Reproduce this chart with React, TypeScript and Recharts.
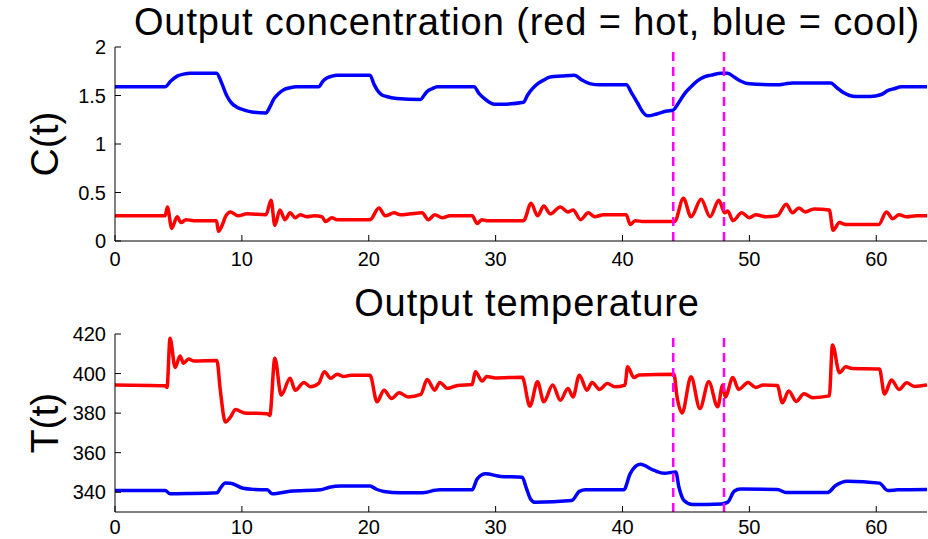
import { LineChart, Line, XAxis, YAxis, ReferenceLine } from 'recharts';

const FONT = '"Liberation Sans", Arial, Helvetica, sans-serif';

// axis ticks
const xTicks = [0, 10, 20, 30, 40, 50, 60];
const concTicks = [0, 0.5, 1, 1.5, 2];
const tempTicks = [340, 360, 380, 400, 420];
const switchTimes = [44, 48];

// output concentration, cool reactor (blue)
const coolConcT = [0, 3.95, 4.4, 4.9, 5.4, 5.9, 8.0, 8.4, 8.8, 9.2, 9.6, 10.2, 10.8, 11.9, 12.2, 12.5, 12.9, 13.3, 13.8, 14.3, 16.05, 16.4, 16.7, 17.1, 17.5, 20.1, 20.4, 20.65, 21.0, 21.4, 22.2, 24.1, 24.35, 24.6, 25.0, 25.4, 28.3, 28.7, 29.1, 29.5, 29.9, 30.5, 32.2, 32.5, 32.9, 33.3, 33.8, 34.3, 35.2, 36.2, 36.8, 37.5, 38.2, 40.3, 40.7, 41.2, 41.6, 42.0, 42.7, 43.5, 44.0, 44.4, 44.9, 45.4, 45.9, 46.4, 47.0, 47.8, 48.3, 48.8, 49.3, 50.0, 52.3, 52.8, 53.4, 56.4, 56.9, 57.4, 57.9, 58.4, 59.5, 60.4, 60.9, 61.4, 62.0, 64];
const coolConcC = [1.59, 1.59, 1.65, 1.70, 1.72, 1.73, 1.73, 1.63, 1.50, 1.42, 1.38, 1.35, 1.33, 1.32, 1.38, 1.46, 1.52, 1.56, 1.58, 1.59, 1.59, 1.65, 1.68, 1.70, 1.71, 1.71, 1.62, 1.56, 1.51, 1.49, 1.47, 1.46, 1.50, 1.54, 1.57, 1.59, 1.59, 1.52, 1.47, 1.43, 1.41, 1.41, 1.43, 1.50, 1.57, 1.62, 1.66, 1.69, 1.70, 1.71, 1.66, 1.62, 1.61, 1.61, 1.53, 1.42, 1.33, 1.29, 1.31, 1.34, 1.35, 1.42, 1.52, 1.59, 1.65, 1.69, 1.71, 1.73, 1.73, 1.69, 1.65, 1.62, 1.61, 1.62, 1.63, 1.63, 1.58, 1.53, 1.50, 1.49, 1.49, 1.51, 1.55, 1.57, 1.59, 1.59];

// output concentration, hot reactor (red)
const hotConcT = [0, 3.95, 4.13, 4.47, 4.9, 5.2, 5.6, 6.2, 8.0, 8.15, 8.5, 8.7, 9.1, 9.7, 10.4, 11.9, 12.3, 12.6, 13.0, 13.4, 13.8, 14.2, 14.6, 15.1, 15.7, 16.3, 16.6, 17.1, 17.5, 20.1, 20.8, 21.3, 22.0, 22.5, 23.3, 24.2, 24.7, 25.2, 25.8, 26.4, 28.15, 28.55, 28.9, 29.3, 32.2, 32.8, 33.3, 33.8, 34.3, 35.1, 35.7, 36.1, 36.7, 37.3, 37.8, 38.5, 40.3, 40.6, 41.0, 41.7, 44.1, 44.8, 45.4, 46.2, 46.9, 47.6, 48.05, 48.3, 48.7, 49.4, 50.0, 50.5, 51.3, 52.2, 52.9, 53.4, 53.9, 54.4, 55.1, 56.3, 56.6, 57.1, 57.6, 60.2, 60.8, 61.3, 61.8, 62.4, 63.2, 64];
const hotConcC = [0.26, 0.26, 0.35, 0.13, 0.25, 0.19, 0.22, 0.21, 0.21, 0.10, 0.18, 0.25, 0.30, 0.26, 0.28, 0.27, 0.42, 0.16, 0.32, 0.22, 0.29, 0.24, 0.27, 0.25, 0.26, 0.25, 0.20, 0.24, 0.22, 0.22, 0.34, 0.26, 0.29, 0.27, 0.28, 0.29, 0.22, 0.27, 0.24, 0.26, 0.26, 0.18, 0.22, 0.21, 0.21, 0.39, 0.26, 0.36, 0.28, 0.35, 0.30, 0.32, 0.22, 0.29, 0.25, 0.27, 0.27, 0.17, 0.21, 0.20, 0.20, 0.44, 0.25, 0.43, 0.25, 0.42, 0.29, 0.31, 0.21, 0.29, 0.24, 0.27, 0.25, 0.26, 0.38, 0.29, 0.34, 0.30, 0.33, 0.32, 0.11, 0.19, 0.17, 0.17, 0.30, 0.23, 0.27, 0.25, 0.26, 0.26];

// output temperature, hot reactor (red)
const hotTempT = [0, 3.95, 4.1, 4.34, 4.74, 5.13, 5.4, 5.8, 6.2, 8.03, 8.3, 8.7, 9.1, 9.5, 10.2, 12.0, 12.2, 12.6, 13.1, 13.8, 14.2, 14.9, 15.4, 16.05, 16.5, 17.0, 17.5, 18.0, 18.6, 20.1, 20.65, 21.2, 21.8, 22.4, 23.1, 24.1, 24.6, 25.2, 25.6, 26.2, 27.0, 28.15, 28.4, 28.95, 29.3, 30.0, 32.1, 32.7, 33.3, 33.8, 34.5, 35.1, 35.7, 36.1, 36.6, 37.2, 37.6, 38.2, 38.8, 39.4, 40.2, 40.4, 40.9, 41.3, 44.05, 44.3, 44.7, 45.4, 46.1, 46.8, 47.5, 47.9, 48.1, 48.7, 49.15, 49.9, 50.5, 51.1, 52.2, 52.6, 53.1, 53.7, 54.3, 55.0, 56.3, 56.55, 57.1, 57.6, 58.1, 60.25, 60.65, 61.2, 61.8, 62.4, 63.0, 64];
const hotTempK = [394.2, 393.8, 393, 417.9, 403.1, 408.9, 405.2, 407.3, 406.4, 406.6, 391.6, 375.5, 378, 381.8, 380.1, 379.7, 378.8, 407.7, 389.1, 397.6, 391.6, 395.5, 393.3, 395, 400.9, 397.6, 399.7, 398.5, 399.2, 399.2, 385.7, 391.6, 387.4, 390.3, 388.2, 389.5, 397, 391.6, 395.5, 392.5, 394, 394.5, 400.9, 396.2, 398.5, 397.8, 398.1, 383.5, 395.8, 385.7, 394.2, 386.5, 392.5, 388.2, 399.2, 391.6, 395.5, 392, 395, 393.3, 394.2, 403.5, 398, 399.3, 399.7, 388.2, 380.1, 398.4, 382.3, 395.8, 383.2, 394.2, 388.2, 398, 392, 395.5, 393, 394.2, 394, 385.2, 391.2, 385.9, 389.8, 387.8, 388.7, 414.5, 400.4, 403.5, 402.5, 402.3, 389.6, 396.7, 392, 395.3, 393.5, 394.2];

// output temperature, cool reactor (blue)
const coolTempT = [0, 3.95, 4.34, 5.7, 8.03, 8.35, 8.7, 9.1, 10.1, 11.0, 12.0, 12.4, 13.8, 16.2, 16.9, 17.8, 20.1, 20.6, 21.2, 22.5, 24.1, 25.6, 28.15, 28.55, 29.2, 30.4, 32.1, 32.4, 32.75, 33.1, 36.0, 36.6, 37.1, 40.1, 40.6, 41.4, 42.5, 43.3, 44.2, 44.45, 44.85, 45.5, 47.8, 48.3, 48.8, 49.3, 52.2, 52.9, 56.15, 56.8, 57.7, 60.25, 60.9, 61.7, 64];
const coolTempK = [340.9, 340.9, 339.2, 339.3, 339.7, 342.5, 344.6, 344.5, 342, 341.4, 341.2, 339.2, 340.5, 341.2, 342.5, 343.2, 343.2, 341.5, 340.4, 339.7, 339.7, 341.2, 341.2, 346.8, 349.3, 348, 347.6, 342.5, 336.6, 334.9, 335.8, 340.4, 341.2, 341.2, 349.3, 354.1, 351, 349.6, 350.2, 342.5, 335.8, 333.8, 334.1, 335, 340.5, 341.6, 341.4, 339.8, 339.8, 343.4, 345.6, 344.6, 340.9, 341.2, 341.4];

const toPoints = (ts: number[], vs: number[]) => ts.map((t, i) => ({ t, v: vs[i] }));

const TICK_LEN = 6;

function BottomTick(props: any) {
  const { x, y, payload, labelDy } = props;
  return (
    <g>
      <line x1={x} y1={y} x2={x} y2={y - TICK_LEN} stroke="#000" />
      <text x={x} y={y + labelDy} textAnchor="middle" fontSize={20} fontFamily={FONT} fill="#000">
        {payload.value}
      </text>
    </g>
  );
}

function TopTick(props: any) {
  const { x, y } = props;
  return <line x1={x} y1={y} x2={x} y2={y + TICK_LEN} stroke="#000" />;
}

function LeftTick(props: any) {
  const { x, y, payload } = props;
  return (
    <g>
      <line x1={x} y1={y} x2={x + TICK_LEN} y2={y} stroke="#000" />
      <text x={x - 9} y={y + 7} textAnchor="end" fontSize={20} fontFamily={FONT} fill="#000">
        {payload.value}
      </text>
    </g>
  );
}

function RightTick(props: any) {
  const { x, y } = props;
  return <line x1={x} y1={y} x2={x - TICK_LEN} y2={y} stroke="#000" />;
}

type PanelProps = {
  top: number;
  height: number;
  marginTop: number;
  axisHeight: number;
  labelDy: number;
  yDomain: [number, number];
  yTicks: number[];
  hot: { t: number; v: number }[];
  cool: { t: number; v: number }[];
};

function Panel({ top, height, marginTop, axisHeight, labelDy, yDomain, yTicks, hot, cool }: PanelProps) {
  const axisLine = { stroke: '#000', strokeWidth: 1 };
  return (
    <div style={{ position: 'absolute', left: 0, top, width: 928, height }}>
      <LineChart width={928} height={height} margin={{ top: marginTop, right: 1, bottom: 0, left: 0 }}>
        <XAxis xAxisId="b" type="number" dataKey="t" domain={[0, 64]} ticks={xTicks} interval={0}
          allowDataOverflow height={axisHeight} tickSize={0} tickMargin={0} axisLine={axisLine}
          tick={(p: any) => <BottomTick {...p} labelDy={labelDy} />} />
        <XAxis xAxisId="t" orientation="top" type="number" dataKey="t" domain={[0, 64]} ticks={xTicks} interval={0}
          allowDataOverflow height={0} tickSize={0} tickMargin={0} axisLine={axisLine}
          tick={(p: any) => <TopTick {...p} />} />
        <YAxis yAxisId="l" type="number" domain={yDomain} ticks={yTicks} interval={0} allowDataOverflow
          width={115} tickSize={0} tickMargin={0} axisLine={axisLine}
          tick={(p: any) => <LeftTick {...p} />} />
        <YAxis yAxisId="r" orientation="right" type="number" domain={yDomain} ticks={yTicks} interval={0} allowDataOverflow
          width={0} tickSize={0} tickMargin={0} axisLine={axisLine}
          tick={(p: any) => <RightTick {...p} />} />
        <Line xAxisId="b" yAxisId="l" data={cool} dataKey="v" type="monotone" stroke="#0000ff" strokeWidth={3.5}
          dot={false} isAnimationActive={false} />
        <Line xAxisId="b" yAxisId="l" data={hot} dataKey="v" type="monotone" stroke="#ff0000" strokeWidth={3.5}
          dot={false} isAnimationActive={false} />
        {switchTimes.map((s) => (
          <ReferenceLine key={s} xAxisId="b" yAxisId="l" x={s} stroke="#ff00ff" strokeWidth={2.5} strokeDasharray="9 6" />
        ))}
      </LineChart>
    </div>
  );
}

export default function App() {
  return (
    <div style={{ position: 'absolute', left: 0, top: 0, width: 928, height: 539, background: '#fff', overflow: 'hidden' }}>
      <Panel top={0} height={270} marginTop={47} axisHeight={29} labelDy={25}
        yDomain={[0, 2]} yTicks={concTicks} hot={toPoints(hotConcT, hotConcC)} cool={toPoints(coolConcT, coolConcC)} />
      <Panel top={290} height={249} marginTop={44} axisHeight={27} labelDy={22}
        yDomain={[330, 420]} yTicks={tempTicks} hot={toPoints(hotTempT, hotTempK)} cool={toPoints(coolTempT, coolTempK)} />
      <svg width={928} height={539} style={{ position: 'absolute', left: 0, top: 0, pointerEvents: 'none' }}>
        <text x={527} y={35} textAnchor="middle" fontSize={38} letterSpacing={0.9} fontFamily={FONT} fill="#000">
          Output concentration (red = hot, blue = cool)
        </text>
        <text x={527} y={316} textAnchor="middle" fontSize={38} letterSpacing={0.9} fontFamily={FONT} fill="#000">
          Output temperature
        </text>
        <text x={58} y={144} transform="rotate(-90 58 144)" textAnchor="middle" fontSize={39} fontFamily={FONT} fill="#000">
          C(t)
        </text>
        <text x={58} y={423} transform="rotate(-90 58 423)" textAnchor="middle" fontSize={39} fontFamily={FONT} fill="#000">
          T(t)
        </text>
      </svg>
    </div>
  );
}
